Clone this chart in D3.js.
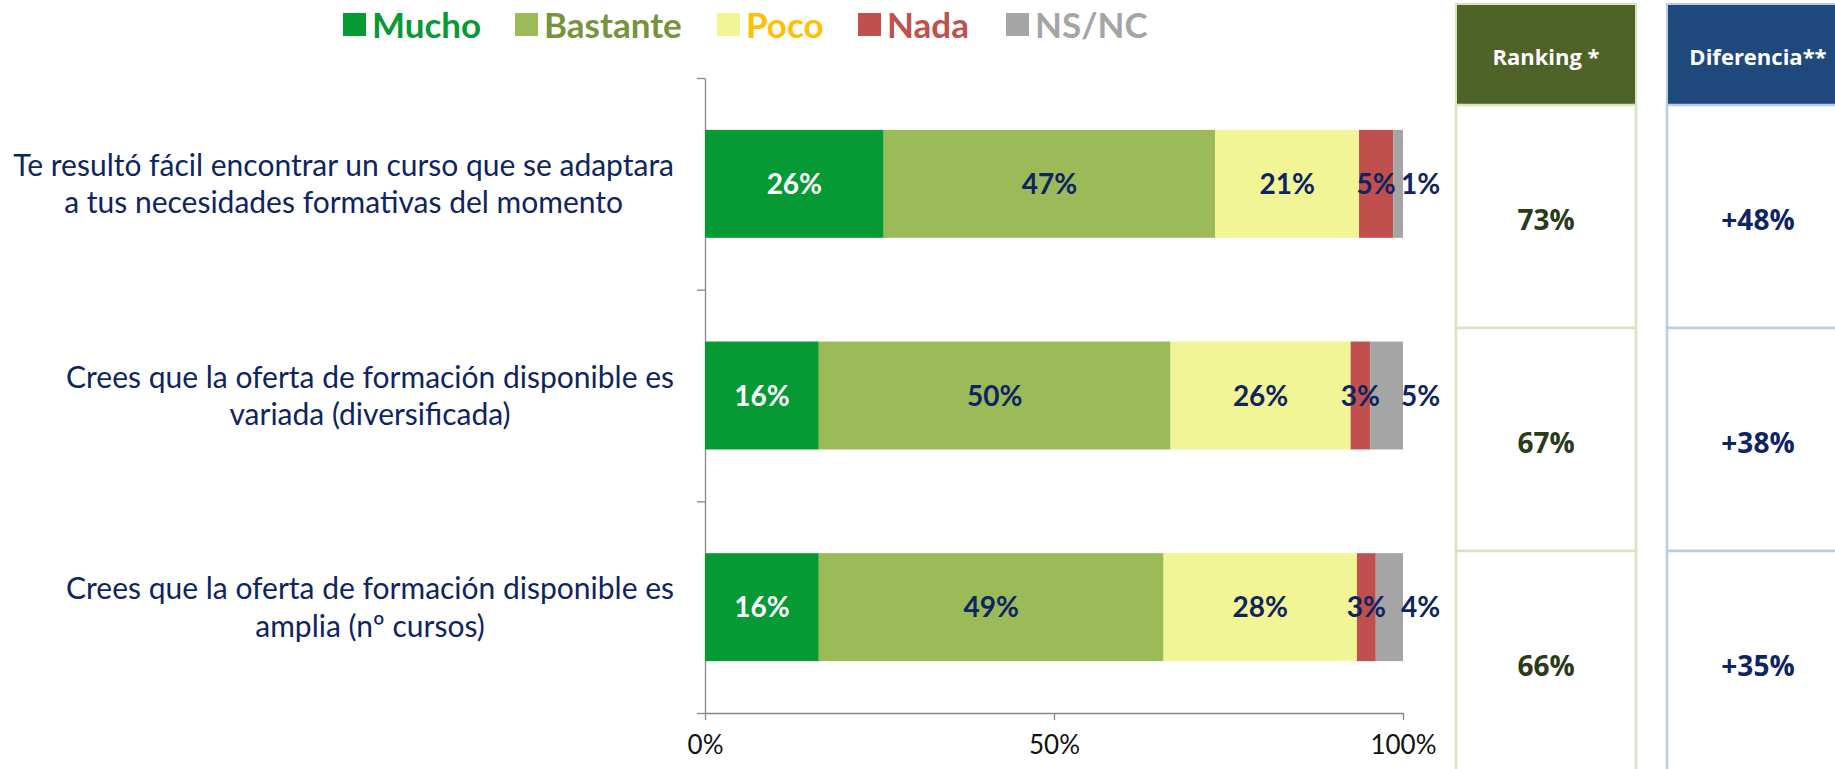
<!DOCTYPE html>
<meta charset="utf-8">
<style>
  body { margin: 0; background: #fff; }
  svg { display: block; }
</style>
<body>
<svg width="1835" height="769"></svg>
<script src="https://cdn.jsdelivr.net/npm/d3@7"></script>
<script>

    // ---- data ----
    var categories = ["q1", "q2", "q3"];
    var categoryLines = [
        ["Te resultó fácil encontrar un curso que se adaptara", "a tus necesidades formativas del momento"],
        ["Crees que la oferta de formación disponible es", "variada (diversificada)"],
        ["Crees que la oferta de formación disponible es", "amplia (nº cursos)"]
    ];
    var seriesNames = ["Mucho", "Bastante", "Poco", "Nada", "NS/NC"];
    var mucho    = [25.6, 16.3, 16.3];
    var bastante = [47.5, 50.4, 49.4];
    var poco     = [20.6, 25.8, 27.7];
    var nada     = [4.9, 2.8, 2.7];
    var nsnc     = [1.4, 4.7, 3.9];
    var ranking    = [73, 67, 66];
    var diferencia = [48, 38, 35];
    var xTicks = [0, 0.5, 1];

    var fills     = ["#069a35", "#9bbb59", "#f1f595", "#c0504d", "#a5a5a5"];
    var textCols  = ["#069a35", "#77933c", "#ffc000", "#c0504d", "#a5a5a5"];
    var labelCols = ["#ffffff", "#0f2462", "#0f2462", "#0f2462", "#0f2462"];
    var navy = "#0f2462";
    var chartFont = "Lato, 'Open Sans', sans-serif";
    var tableFont = "'Open Sans', 'Noto Sans', sans-serif";

    var svg = d3.select("svg");

    var rows = categories.map(function (c, i) {
        return {cat: c, Mucho: mucho[i], Bastante: bastante[i], Poco: poco[i], Nada: nada[i], "NS/NC": nsnc[i]};
    });
    var stacked = d3.stack().keys(seriesNames)(rows);

    var x = d3.scaleLinear().domain([0, 100]).range([705, 1403]);
    var y = d3.scaleBand().domain(categories).range([78, 713])
        .paddingInner(0.49).paddingOuter(0.245);
    var yEdge = d3.scaleLinear().domain([0, categories.length]).range([78, 713]);

    // axes
    svg.append("g")
        .attr("transform", "translate(" + x(0) + ",0)")
        .call(d3.axisLeft(yEdge).tickValues([0, 1, 2, 3]).tickFormat("").tickSize(8).tickSizeOuter(0))
        .call(function (g) { g.selectAll("path, line").attr("stroke", "#878787").attr("stroke-width", 1.3); });

    var xAxis = svg.append("g")
        .attr("transform", "translate(0," + yEdge(3) + ")")
        .call(d3.axisBottom(x).tickValues(xTicks.map(function (d) { return d * 100; }))
            .tickFormat(function (d) { return d + "%"; })
            .tickSize(7).tickSizeOuter(0).tickPadding(16));
    xAxis.selectAll("path, line").attr("stroke", "#878787").attr("stroke-width", 1.3);
    xAxis.selectAll("text").attr("font-family", chartFont).attr("font-size", 26).attr("fill", "#111");

    // bars
    var layer = svg.selectAll(".layer")
        .data(stacked)
        .enter().append("g")
        .attr("class", "layer")
        .attr("fill", function (d, i) { return fills[i]; });

    layer.selectAll("rect")
        .data(function (d) { return d; })
        .enter().append("rect")
        .attr("x", function (d) { return x(d[0]); })
        .attr("width", function (d) { return x(d[1]) - x(d[0]); })
        .attr("y", function (d) { return y(d.data.cat); })
        .attr("height", y.bandwidth());

    // bar labels
    stacked.forEach(function (s, si) {
        svg.append("g").selectAll("text")
            .data(s)
            .enter().append("text")
            .attr("x", function (d) {
                return si === 4 ? x(d[1]) - 2 : (x(d[0]) + x(d[1])) / 2;
            })
            .attr("y", function (d) { return y(d.data.cat) + y.bandwidth() / 2; })
            .attr("dy", "0.36em")
            .attr("text-anchor", si === 4 ? "start" : "middle")
            .attr("font-family", chartFont)
            .attr("font-weight", "bold")
            .attr("font-size", 28)
            .attr("fill", labelCols[si])
            .text(function (d) { return Math.round(d[1] - d[0]) + "%"; });
    });

    // category labels: block right-aligned to the axis, lines centred in the block
    var rightEdge = 674;
    categories.forEach(function (c, i) {
        var g = svg.append("g");
        var cy = y(c) + y.bandwidth() / 2;
        var texts = g.selectAll("text")
            .data(categoryLines[i])
            .enter().append("text")
            .attr("y", function (d, j) { return cy + (j - 0.5) * 37.5; })
            .attr("dy", "0.36em")
            .attr("text-anchor", "middle")
            .attr("font-family", chartFont)
            .attr("font-size", 30)
            .attr("fill", navy)
            .text(function (d) { return d; });
        var maxW = d3.max(texts.nodes(), function (n) { return n.getComputedTextLength(); });
        texts.attr("x", rightEdge - maxW / 2);
    });

    // legend
    var legendX = [343, 515, 717, 858, 1006];
    var legend = svg.append("g").selectAll("g")
        .data(seriesNames)
        .enter().append("g")
        .attr("transform", function (d, i) { return "translate(" + legendX[i] + ",25)"; });
    legend.append("rect")
        .attr("y", -12).attr("width", 23).attr("height", 23)
        .attr("fill", function (d, i) { return fills[i]; });
    legend.append("text")
        .attr("x", 29).attr("dy", "0.36em")
        .attr("font-family", chartFont).attr("font-weight", "bold").attr("font-size", 35)
        .attr("fill", function (d, i) { return textCols[i]; })
        .text(function (d) { return d; });

    // side tables
    var rowY = d3.scaleBand().domain(categories).range([105, 774]);
    var tables = [
        {title: "Ranking *", x0: 1456, x1: 1636, head: "#4f6228", border: "#d8e4bc", col: "#2b3a17",
         values: ranking, fmt: function (v) { return v + "%"; }},
        {title: "Diferencia**", x0: 1667, x1: 1849, head: "#1f497d", border: "#b8cce4", col: navy,
         values: diferencia, fmt: function (v) { return "+" + v + "%"; }}
    ];
    tables.forEach(function (t) {
        var g = svg.append("g");
        var cx = (t.x0 + t.x1) / 2;
        g.append("rect")
            .attr("x", t.x0).attr("y", 4).attr("width", t.x1 - t.x0).attr("height", 101)
            .attr("fill", t.head).attr("stroke", t.border).attr("stroke-width", 2);
        g.selectAll(".cell")
            .data(categories)
            .enter().append("rect")
            .attr("x", t.x0).attr("y", function (d) { return rowY(d); })
            .attr("width", t.x1 - t.x0).attr("height", rowY.bandwidth())
            .attr("fill", "#fff").attr("stroke", t.border).attr("stroke-width", 2.5);
        g.append("text")
            .attr("x", cx).attr("y", 57).attr("dy", "0.36em")
            .attr("text-anchor", "middle")
            .attr("font-family", tableFont).attr("font-weight", "bold").attr("font-size", 22)
            .attr("fill", "#fff")
            .text(t.title);
        g.selectAll(".val")
            .data(categories)
            .enter().append("text")
            .attr("x", cx)
            .attr("y", function (d) { return rowY(d) + rowY.bandwidth() / 2 + 3; })
            .attr("dy", "0.36em")
            .attr("text-anchor", "middle")
            .attr("font-family", tableFont).attr("font-weight", "bold").attr("font-size", 28)
            .attr("fill", t.col)
            .text(function (d, i) { return t.fmt(t.values[i]); });
    });

</script>
</body>
